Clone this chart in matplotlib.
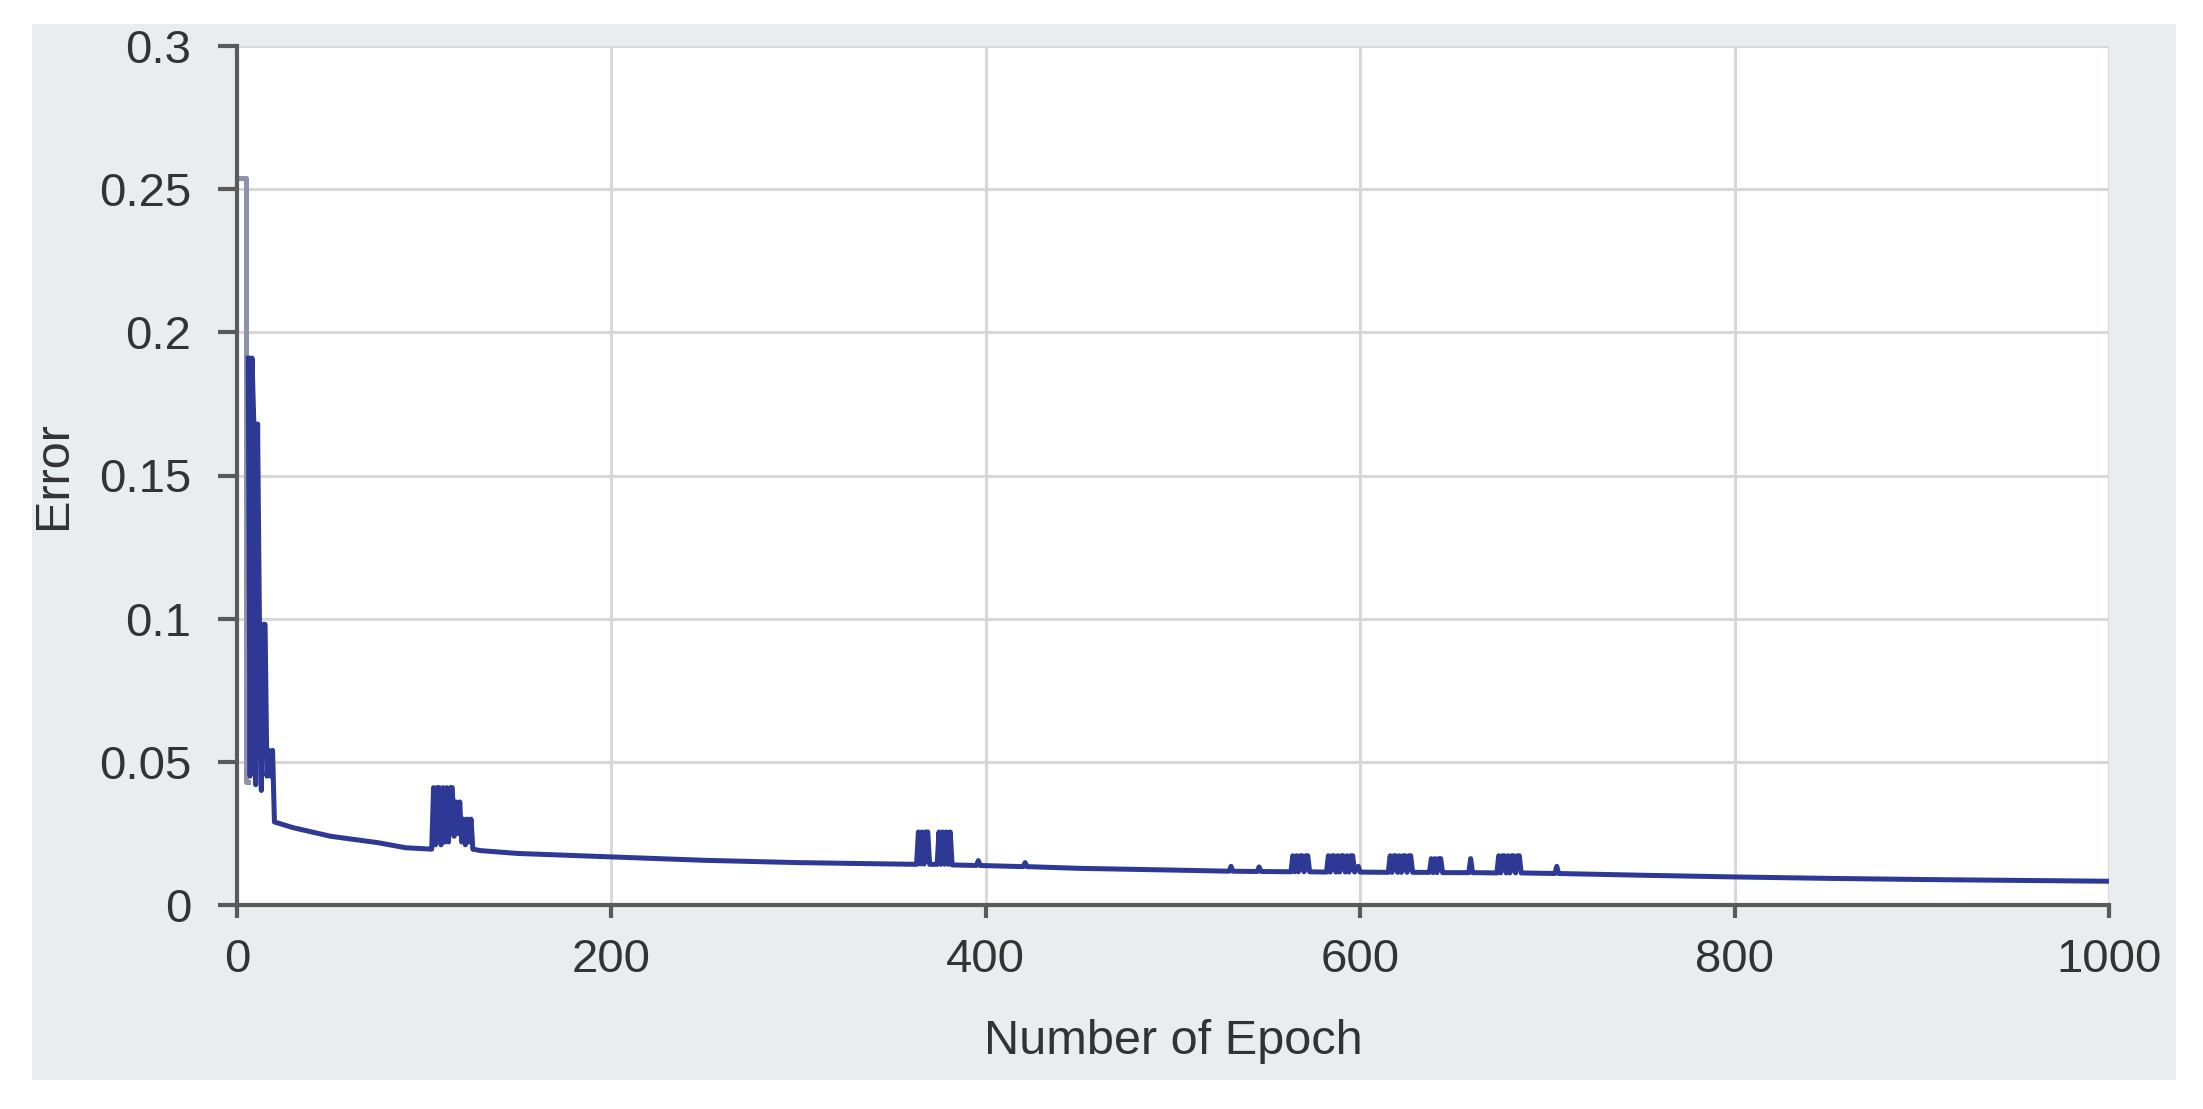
import matplotlib
matplotlib.use("Agg")
import matplotlib.pyplot as plt
from matplotlib.patches import Rectangle

plt.rcParams['font.family'] = ['Liberation Sans', 'DejaVu Sans']

# ---- data ----
start_epochs = [0, 5, 5, 6]
start_errors = [0.254, 0.254, 0.043, 0.043]

epochs = [6, 7, 8, 9, 10, 11, 12, 13, 14, 15, 16, 17, 18, 19, 20,
          30, 50, 75, 90, 104,
          105, 106, 107, 108, 109, 110, 111, 112, 113, 114, 115, 116,
          117, 118, 119, 120, 121, 122, 123, 124, 125, 126,
          130, 150, 200, 250, 300, 350, 363,
          364, 365, 366, 367, 368, 369, 370, 374,
          375, 376, 377, 378, 379, 380, 381, 382,
          395, 396, 397, 420, 421, 422, 450, 500,
          530, 531, 532, 545, 546, 547,
          563, 564, 565, 566, 567, 568, 569, 570, 571, 572, 573,
          582, 583, 584, 585, 586, 587, 588, 589, 590, 591, 592, 593, 594, 595, 596, 597,
          599, 600,
          615, 616, 617, 618, 619, 620, 621, 622, 623, 624, 625, 626, 627, 628,
          637, 638, 639, 640, 641, 642, 643, 644,
          658, 659, 660,
          673, 674, 675, 676, 677, 678, 679, 680, 681, 682, 683, 684, 685, 686,
          704, 705, 706, 750, 800, 850, 900, 950, 1000]
errors = [0.191, 0.045, 0.191, 0.168, 0.042, 0.168, 0.098, 0.040, 0.098, 0.098, 0.045, 0.054, 0.045, 0.054, 0.029,
          0.027, 0.024, 0.0218, 0.0200, 0.0195,
          0.041, 0.021, 0.041, 0.041, 0.021, 0.041, 0.022, 0.041, 0.022, 0.041, 0.041, 0.024,
          0.036, 0.025, 0.036, 0.022, 0.030, 0.021, 0.030, 0.022, 0.030, 0.0195,
          0.0190, 0.0180, 0.0168, 0.0156, 0.0148, 0.0143, 0.0142,
          0.0255, 0.0143, 0.0255, 0.0143, 0.0255, 0.0255, 0.0142, 0.0142,
          0.0255, 0.0142, 0.0255, 0.0142, 0.0255, 0.0142, 0.0255, 0.0140,
          0.0138, 0.0155, 0.0138, 0.0134, 0.0148, 0.0134, 0.0128, 0.0122,
          0.0118, 0.0135, 0.0118, 0.0117, 0.0133, 0.0117,
          0.0116, 0.0172, 0.0116, 0.0172, 0.0116, 0.0172, 0.0172, 0.0116, 0.0172, 0.0172, 0.0116,
          0.0115, 0.0172, 0.0115, 0.0172, 0.0172, 0.0115, 0.0172, 0.0115, 0.0172, 0.0172, 0.0115, 0.0172, 0.0115, 0.0172, 0.0172, 0.0115,
          0.0135, 0.0115,
          0.0114, 0.0172, 0.0114, 0.0172, 0.0172, 0.0114, 0.0172, 0.0114, 0.0172, 0.0172, 0.0114, 0.0172, 0.0172, 0.0114,
          0.0114, 0.0162, 0.0113, 0.0162, 0.0113, 0.0162, 0.0162, 0.0113,
          0.0113, 0.0162, 0.0113,
          0.0112, 0.0172, 0.0112, 0.0172, 0.0172, 0.0112, 0.0172, 0.0112, 0.0172, 0.0172, 0.0112, 0.0172, 0.0172, 0.0112,
          0.0110, 0.0135, 0.0110, 0.0104, 0.0098, 0.0093, 0.0089, 0.0086, 0.0083]

x_ticks = [0, 200, 400, 600, 800, 1000]
y_ticks = [0, 0.05, 0.1, 0.15, 0.2, 0.25, 0.3]
y_tick_labels = ['0', '0.05', '0.1', '0.15', '0.2', '0.25', '0.3']

W, H = 2203, 1109
fig = plt.figure(figsize=(W / 100, H / 100), dpi=100, facecolor='white')

# light grey panel behind the chart
fig.patches.append(Rectangle((32 / W, 1 - 1080 / H), (2176 - 32) / W, (1080 - 24) / H,
                             transform=fig.transFigure, facecolor='#e9eded',
                             edgecolor='none', zorder=-10))

ax = fig.add_axes([237 / W, 1 - 905 / H, (2109 - 237) / W, (905 - 46) / H])
ax.set_zorder(5)
ax.set_facecolor('white')

ax.plot(start_epochs, start_errors, color='#8e92ab', lw=3.6, zorder=3)
ax.plot(epochs, errors, color='#2d3994', lw=3.6, zorder=3)

ax.set_xlim(0, 1000)
ax.set_ylim(0, 0.3)
ax.set_xticks(x_ticks)
ax.set_yticks(y_ticks)
ax.set_yticklabels(y_tick_labels)

ax.grid(True, color='#d8d8d8', lw=2.2, zorder=1)
ax.set_axisbelow(True)

for s in ['top', 'right']:
    ax.spines[s].set_visible(False)
for s in ['left', 'bottom']:
    ax.spines[s].set_color('#5a5a5a')
    ax.spines[s].set_linewidth(3)
    ax.spines[s].set_zorder(4)

ax.tick_params(axis='y', length=14, width=3, color='#5a5a5a', labelsize=34,
               labelcolor='#333333', pad=19, direction='out')
ax.tick_params(axis='x', length=9, width=3, color='#5a5a5a', labelsize=34,
               labelcolor='#333333', pad=15, direction='out')

ax.set_xlabel('Number of Epoch', fontsize=35, color='#333333', va='center')
ax.xaxis.set_label_coords(0.5, (905 - 1042) / (905 - 46))
ax.set_ylabel('Error', fontsize=35, color='#333333', va='center')
ax.yaxis.set_label_coords((53 - 237) / (2109 - 237), 0.5)

fig.savefig('out.png', dpi=100, facecolor='white')
